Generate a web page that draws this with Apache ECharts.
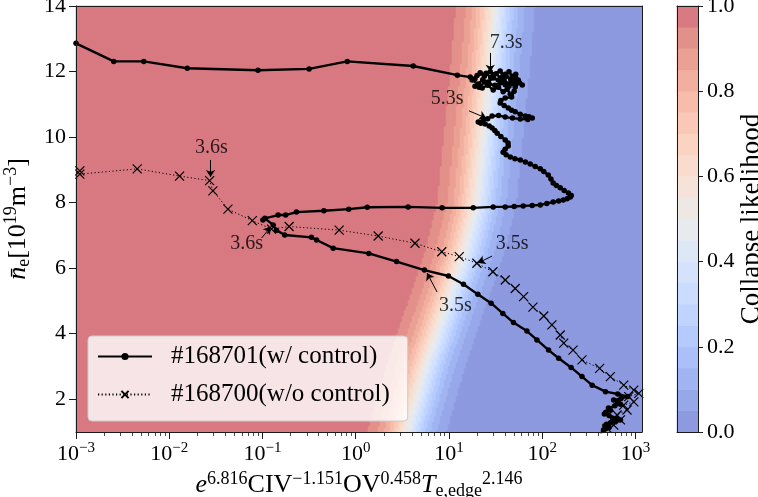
<!DOCTYPE html>
<html><head><meta charset="utf-8">
<script src="https://cdn.jsdelivr.net/npm/echarts@6/dist/echarts.min.js"></script>
<style>html,body{margin:0;padding:0;background:#fff}#c{width:758px;height:497px}</style>
</head><body><div id="c"></div>
<script>
const FONT = '"Liberation Serif", "DejaVu Serif", serif';

// ---- data: #168701 (w/ control), [x, n_e]
const ctrlPoints = [
  [0.001, 12.86], [0.00254, 12.31], [0.00533, 12.31], [0.0156, 12.10], [0.0895, 12.04], [0.316, 12.08], [0.811, 12.31], [4.14, 12.17], [12.3, 11.89],
  [16.9, 11.83], [19, 11.78], [21.6, 11.96], [24, 11.86], [27.7, 11.99], [30, 11.90], [35.4, 12.02], [38, 11.88], [40.1, 11.92], [44, 11.99],
  [47.6, 11.86], [52, 11.92], [55.3, 11.74], [61.1, 11.59], [57, 11.66], [51.3, 11.53], [47, 11.64], [43.2, 11.62], [39, 11.74], [33.7, 11.74],
  [30, 11.80], [26.3, 11.68], [23, 11.75], [20.6, 11.62], [17.7, 11.74],
  [20, 11.88], [25, 11.95], [28, 11.82], [32, 11.93], [36, 11.80], [41, 11.86], [46, 11.76], [50, 11.85], [53, 11.66], [48, 11.70],
  [44, 11.55], [40, 11.60], [36, 11.66], [31, 11.58], [27, 11.62], [24, 11.68], [21, 11.52],
  [19, 11.55], [22.7, 11.50], [26, 11.58], [29.8, 11.44], [34, 11.52],
  [38.1, 11.38], [42, 11.46], [45.4, 11.31], [50, 11.40], [47, 11.22], [40.1, 11.19], [36, 11.12], [35.4, 11.04], [39, 10.96], [43.2, 10.89],
  [47, 10.82], [51.3, 10.77], [58, 10.70], [65.8, 10.64], [72, 10.62], [78.2, 10.58], [70, 10.54], [58.1, 10.55], [48, 10.58], [40.1, 10.61],
  [34, 10.66], [29.0, 10.64], [26, 10.56], [23.3, 10.52], [20.6, 10.46], [22, 10.42], [24.4, 10.40], [27, 10.34], [29.0, 10.28], [31, 10.20],
  [32.9, 10.12], [36, 10.02], [40.1, 9.91], [43, 9.82], [43.2, 9.73], [40, 9.63], [38.1, 9.54], [41, 9.46], [45.4, 9.39], [51, 9.34],
  [58.1, 9.30], [66, 9.24], [74.3, 9.18], [84, 9.10], [95.3, 9.03], [104, 8.95], [116, 8.84], [124, 8.72], [131, 8.60], [142, 8.52],
  [156, 8.45], [172, 8.37], [191, 8.29], [205, 8.22], [200, 8.17], [185, 8.12], [168, 8.08], [150, 8.05], [131, 8.02], [112, 7.97],
  [95.3, 7.93], [78, 7.91], [62.5, 7.90], [50, 7.88], [40.1, 7.87], [29.8, 7.87], [18.2, 7.84], [8.43, 7.84], [3.64, 7.87],
  [1.33, 7.86], [0.84, 7.80], [0.455, 7.75], [0.231, 7.71], [0.177, 7.62], [0.147, 7.62], [0.106, 7.52], [0.101, 7.47],
  [0.130, 7.32], [0.141, 7.16], [0.173, 7.01], [0.335, 6.94], [0.38, 6.86], [0.573, 6.61], [1.38, 6.45], [2.74, 6.20],
  [5.45, 5.94], [9.86, 5.76], [14.3, 5.51], [20.4, 5.20], [28.3, 4.93], [37.8, 4.62], [49.2, 4.34], [68.5, 4.08], [87.8, 3.81], [117, 3.50],
  [150, 3.25], [204, 2.97], [267, 2.69], [343, 2.43], [477, 2.23], [646, 2.16], [827, 2.08],
  [700, 2.02], [583, 1.98], [640, 1.92], [690, 1.85], [600, 1.80], [513, 1.73], [540, 1.66], [480, 1.60], [464, 1.55], [520, 1.50],
  [566, 1.43], [620, 1.40], [690, 1.37], [600, 1.32], [540, 1.28], [489, 1.24], [470, 1.18], [520, 1.14], [480, 1.10], [454, 1.06],
  [430, 0.98], [421, 0.88]
];

// ---- data: #168700 (w/o control), [x, n_e]
const noCtrlPoints = [
  [0.0011, 8.97], [0.0011, 8.87], [0.00453, 9.03], [0.0129, 8.81], [0.0271, 8.67], [0.0294, 8.36], [0.0426, 7.80], [0.0778, 7.45], [0.125, 7.19], [0.193, 7.27],
  [0.664, 7.16], [1.74, 6.98], [4.32, 6.76], [8.37, 6.50], [12.9, 6.35], [19.9, 6.15], [29.6, 5.89], [40.1, 5.64], [51.3, 5.38], [63.1, 5.13],
  [79.5, 4.81], [104, 4.54], [127, 4.27], [156, 3.96], [170, 3.71], [214, 3.50], [267, 3.20], [413, 2.94], [538, 2.69], [748, 2.43],
  [959, 2.28], [1085, 2.18], [847, 2.08], [960, 1.92], [748, 1.82], [812, 1.67], [635, 1.52], [690, 1.37], [585, 1.21], [497, 1.11]
];

const seriesNames = ['#168701(w/ control)', '#168700(w/o control)'];

// ---- annotations
const annotText = ['7.3s', '5.3s', '3.6s', '3.6s', '3.5s', '3.5s'];
const annotX = [41.1, 9.55, 0.0284, 0.0676, 47.6, 11.7];
const annotY = [12.87, 11.16, 9.67, 6.74, 6.74, 4.85];
const arrowFromX = [27.7, 16.4, 0.0277, 0.098, 29.0, 7.46];
const arrowFromY = [12.57, 10.80, 9.30, 6.92, 6.37, 5.27];
const arrowToX = [27.7, 25.1, 0.0277, 0.1225, 20.6, 5.82];
const arrowToY = [11.99, 10.58, 8.78, 7.26, 6.16, 5.85];

// ---- axes
const xMin = 0.001, xMax = 1175;
const yMin = 1, yMax = 14;
const xMajorTicks = [0.001, 0.01, 0.1, 1, 10, 100, 1000];
const yTicks = [2, 4, 6, 8, 10, 12, 14];
const cbarMin = 0, cbarMax = 1, cbarStep = 0.2;

// ---- collapse likelihood model surface (0.5-contour)
const boundaryY = [1, 2, 3, 4, 5, 6.5, 8, 10, 12, 14];
const boundaryLogX = [0.55, 0.65, 0.75, 0.87, 0.99, 1.17, 1.30, 1.37, 1.44, 1.50];
const bandWidthDecades = 0.85; // distance from p=0.95 to p=0.05 in decades
const levels = 20;
const coolwarm = [[59,76,192],[68,90,204],[77,104,215],[87,117,225],[98,130,234],[108,142,241],[119,154,247],[130,165,251],[141,176,254],[152,185,255],[163,194,255],[174,201,253],[184,208,249],[194,213,244],[204,217,238],[213,219,230],[221,221,221],[229,216,209],[236,211,197],[241,204,184],[245,196,172],[247,187,160],[247,177,148],[247,166,135],[244,154,123],[241,141,111],[236,127,99],[229,112,88],[222,96,77],[213,80,66],[203,62,56],[192,40,47],[180,4,38]];
const ALPHA = 0.6;

function interp(xs, ys, v) {
  if (v <= xs[0]) return ys[0];
  for (let i = 1; i < xs.length; i++) {
    if (v <= xs[i]) { const t = (v - xs[i-1]) / (xs[i] - xs[i-1]); return ys[i-1] + t * (ys[i] - ys[i-1]); }
  }
  return ys[ys.length - 1];
}
function cw(t) {
  const n = coolwarm.length - 1, f = t * n, i = Math.min(n - 1, Math.floor(f)), r = f - i;
  return coolwarm[i].map((c, k) => c + (coolwarm[i+1][k] - c) * r);
}
function blend(c) { return 'rgb(' + c.map(v => Math.round(255 + (v - 255) * ALPHA)).join(',') + ')'; }

const pieces = [];
for (let i = 0; i < levels; i++) {
  const p = { gte: i / levels, color: blend(cw((i + 0.5) / levels)) };
  if (i < levels - 1) p.lt = (i + 1) / levels; else p.lte = 1.0001;
  pieces.push(p);
}

const NX = 283, NY = 213;
const LX0 = Math.log10(xMin), LX1 = Math.log10(xMax);
const kSlope = 2 * Math.log(19) / bandWidthDecades;
const bgData = [];
for (let j = 0; j < NY; j++) {
  const y = yMin + (j + 0.5) * (yMax - yMin) / NY;
  const b = interp(boundaryY, boundaryLogX, y);
  for (let i = 0; i < NX; i++) {
    const lx = LX0 + (i + 0.5) * (LX1 - LX0) / NX;
    bgData.push([i, j, 1 / (1 + Math.exp(kSlope * (lx - b)))]);
  }
}
const bgXCats = Array.from({length: NX}, (_, i) => i);
const bgYCats = Array.from({length: NY}, (_, i) => i);
const cbData = Array.from({length: levels}, (_, i) => [0, i, (i + 0.5) / levels]);
const cbCats = Array.from({length: levels}, (_, i) => i);

const minorTicks = [];
for (let e = -3; e <= 3; e++) for (let m = 2; m <= 9; m++) { const v = Math.log10(m) + e; if (v < LX1) minorTicks.push(v); }
const majorTicksLog = xMajorTicks.map(v => Math.log10(v));

const AX = '#1a1a1a';
const G0 = {left: 76, right: 116, top: 6, bottom: 65};
const baseRich = {
  b: {fontFamily: FONT, fontSize: 22, color: '#000'},
  s: {fontFamily: FONT, fontSize: 15, color: '#000', padding: [0, 0, 11, 0]}
};
const nameRich = {
  n: {fontFamily: FONT, fontSize: 26, color: '#000'},
  i: {fontFamily: FONT, fontSize: 26, fontStyle: 'italic', color: '#000'},
  p: {fontFamily: FONT, fontSize: 18, color: '#000', padding: [0, 0, 13, 0]},
  d: {fontFamily: FONT, fontSize: 18, color: '#000', padding: [12, 0, 0, 0]}
};
const spine = (extra) => Object.assign({
  type: 'value', min: 0, max: 1, z: 10, silent: true,
  axisLine: {show: true, onZero: false, lineStyle: {color: AX, width: 1}},
  axisTick: {show: false}, axisLabel: {show: false}, splitLine: {show: false}
}, extra);

const option = {
  animation: false,
  backgroundColor: '#fff',
  grid: [
    Object.assign({outerBoundsMode: 'none', containLabel: false}, G0),
    Object.assign({outerBoundsMode: 'none', containLabel: false}, G0),
    {left: 677, width: 21, top: 6, bottom: 65, outerBoundsMode: 'none', containLabel: false}
  ],
  visualMap: {type: 'piecewise', show: false, dimension: 2, seriesIndex: [0, 1], pieces: pieces},
  legend: {
    left: 88, top: 336, orient: 'vertical',
    data: seriesNames,
    itemWidth: 54, itemHeight: 9, itemGap: 13,
    padding: [8, 18, 14, 9],
    backgroundColor: 'rgba(255,255,255,0.8)',
    borderColor: '#cccccc', borderWidth: 1, borderRadius: 4,
    textStyle: {fontFamily: FONT, fontSize: 25, color: '#000', lineHeight: 24, padding: [0, 0, 0, 14]},
    selectedMode: false, z: 20
  },
  xAxis: [
    { // 0 main log axis
      type: 'log', logBase: 10, min: xMin, max: xMax, gridIndex: 0, position: 'bottom', z: 10,
      axisLine: {show: true, onZero: false, lineStyle: {color: AX, width: 1}},
      axisTick: {show: false}, splitLine: {show: false}, minorTick: {show: false},
      axisLabel: {
        margin: 9, color: '#000', fontFamily: FONT, fontSize: 22, rich: baseRich,
        showMinLabel: true, showMaxLabel: true,
        formatter: function (v) {
          const e = Math.log10(v), r = Math.round(e);
          if (Math.abs(e - r) > 1e-6) return '';
          return '{b|10}{s|' + (r < 0 ? '\u2212' + (-r) : r) + '}';
        }
      },
      name: '{i|e}{p|6.816}{n|CIV}{p|\u22121.151}{n|OV}{p|0.458}{i|T}{d|e,edge}{p|2.146}',
      nameLocation: 'middle', nameGap: 24,
      nameTextStyle: {fontFamily: FONT, fontSize: 26, color: '#000', rich: nameRich}
    },
    { // 1 major ticks
      type: 'value', min: LX0, max: LX1, gridIndex: 0, position: 'bottom', z: 10, silent: true,
      axisLine: {show: false, onZero: false}, axisLabel: {show: false}, splitLine: {show: false},
      axisTick: {show: true, length: 7, customValues: majorTicksLog, lineStyle: {color: AX, width: 1}}
    },
    { // 2 minor ticks
      type: 'value', min: LX0, max: LX1, gridIndex: 0, position: 'bottom', z: 10, silent: true,
      axisLine: {show: false, onZero: false}, axisLabel: {show: false}, splitLine: {show: false},
      axisTick: {show: true, length: 4, customValues: minorTicks, lineStyle: {color: AX, width: 0.8}}
    },
    spine({gridIndex: 0, position: 'top'}), // 3 top spine
    { // 4 background heatmap axis
      type: 'category', data: bgXCats, gridIndex: 1, show: false, boundaryGap: true
    },
    { // 5 colorbar bottom
      type: 'category', data: [0], gridIndex: 2, position: 'bottom', z: 10, silent: true,
      axisLine: {show: true, onZero: false, lineStyle: {color: AX, width: 1}},
      axisTick: {show: false}, axisLabel: {show: false}, splitLine: {show: false}
    },
    { // 6 colorbar top
      type: 'category', data: [0], gridIndex: 2, position: 'top', z: 10, silent: true,
      axisLine: {show: true, onZero: false, lineStyle: {color: AX, width: 1}},
      axisTick: {show: false}, axisLabel: {show: false}, splitLine: {show: false}
    }
  ],
  yAxis: [
    { // 0 main y
      type: 'value', min: yMin, max: yMax, gridIndex: 0, position: 'left', z: 10,
      axisLine: {show: true, onZero: false, lineStyle: {color: AX, width: 1}},
      axisTick: {show: true, length: 7, customValues: yTicks, lineStyle: {color: AX, width: 1}},
      axisLabel: {customValues: yTicks, margin: 10, color: '#000', fontFamily: FONT, fontSize: 22},
      splitLine: {show: false},
      name: '{i|n\u0304}{d|e}{n|[10}{p|19}{n|m}{p|\u22123}{n|]}',
      nameLocation: 'middle', nameGap: 31, nameRotate: 90,
      nameTextStyle: {fontFamily: FONT, fontSize: 26, color: '#000', rich: nameRich}
    },
    spine({gridIndex: 0, position: 'right', min: yMin, max: yMax}), // 1 right spine
    { // 2 background heatmap axis
      type: 'category', data: bgYCats, gridIndex: 1, show: false, boundaryGap: true
    },
    { // 3 colorbar rows
      type: 'category', data: cbCats, gridIndex: 2, position: 'left', z: 10, silent: true,
      axisLine: {show: true, onZero: false, lineStyle: {color: AX, width: 1}},
      axisTick: {show: false}, axisLabel: {show: false}, splitLine: {show: false}
    },
    { // 4 colorbar scale
      type: 'value', min: cbarMin, max: cbarMax, interval: cbarStep, gridIndex: 2, position: 'right', z: 10,
      axisLine: {show: true, onZero: false, lineStyle: {color: AX, width: 1}},
      axisTick: {show: true, length: 5, lineStyle: {color: AX, width: 1}},
      axisLabel: {margin: 9, color: '#000', fontFamily: FONT, fontSize: 22, formatter: v => v.toFixed(1)},
      splitLine: {show: false},
      name: 'Collapse likelihood', nameLocation: 'middle', nameGap: 36, nameRotate: 90,
      nameTextStyle: {fontFamily: FONT, fontSize: 27, color: '#000'}
    }
  ],
  series: [
    {
      type: 'heatmap', xAxisIndex: 4, yAxisIndex: 2, data: bgData, z: 1,
      progressive: 0, silent: true, emphasis: {disabled: true}, itemStyle: {borderWidth: 0}
    },
    {
      type: 'heatmap', xAxisIndex: 5, yAxisIndex: 3, data: cbData, z: 1,
      progressive: 0, silent: true, emphasis: {disabled: true}, itemStyle: {borderWidth: 0}
    },
    {
      name: seriesNames[0], type: 'line', xAxisIndex: 0, yAxisIndex: 0, z: 4,
      data: ctrlPoints,
      symbol: 'circle', symbolSize: 5.5, showAllSymbol: true,
      itemStyle: {color: '#000'},
      lineStyle: {color: '#000', width: 2.4},
      silent: true, emphasis: {disabled: true}
    },
    {
      name: seriesNames[1], type: 'line', xAxisIndex: 0, yAxisIndex: 0, z: 5,
      data: noCtrlPoints,
      symbol: 'path://M0,0L10,10M10,0L0,10', symbolSize: 9, showAllSymbol: true,
      itemStyle: {color: 'rgba(0,0,0,0)', borderColor: '#000', borderWidth: 1.2},
      lineStyle: {color: '#000', width: 1, type: [1.2, 2.4]},
      silent: true, emphasis: {disabled: true}
    },
    {
      type: 'scatter', xAxisIndex: 0, yAxisIndex: 0, z: 6, symbolSize: 0,
      data: annotText.map((t, i) => ({name: t, value: [annotX[i], annotY[i]]})),
      label: {show: true, position: 'inside', formatter: '{b}', fontFamily: FONT, fontSize: 20, color: '#000'},
      silent: true, emphasis: {disabled: true},
      markLine: {
        silent: true, animation: false, symbol: ['none', 'arrow'], symbolSize: 7,
        label: {show: false}, emphasis: {disabled: true},
        lineStyle: {color: '#000', width: 1, type: 'solid'},
        data: arrowFromX.map((x, i) => [{coord: [x, arrowFromY[i]]}, {coord: [arrowToX[i], arrowToY[i]]}])
      }
    }
  ]
};
const chart = echarts.init(document.getElementById('c'), null, {renderer: 'canvas'});
chart.setOption(option);
</script>
</body></html>
